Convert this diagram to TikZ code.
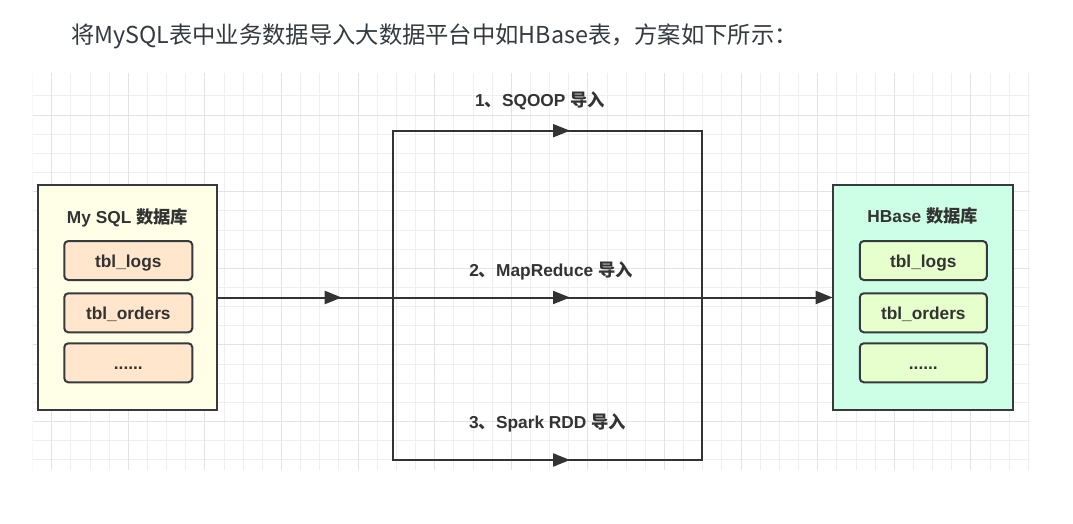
\documentclass[tikz,border=0pt]{standalone}
\usepackage{fontspec}
\setmainfont{Liberation Sans}
\newfontfamily\cjkfont{Noto Sans CJK SC}
\newcommand\cjktxt[1]{{\cjkfont\bfseries #1}}
\usetikzlibrary{arrows.meta}
\definecolor{ln}{HTML}{333333}
\definecolor{bd}{HTML}{36393D}
\definecolor{ttl}{HTML}{333A40}
\definecolor{gminor}{HTML}{EFEFEF}
\definecolor{gmajor}{HTML}{E3E3E3}
\definecolor{myfill}{HTML}{FFFFE8}
\definecolor{myin}{HTML}{FFE6CC}
\definecolor{hbfill}{HTML}{CCFFE6}
\definecolor{hbin}{HTML}{E6FFCC}
\tikzset{
  minorline/.style={draw=gminor, line width=1pt},
  majorline/.style={draw=gmajor, line width=1pt},
  dbbox/.style={draw=bd, line width=2pt, inner sep=0pt, outer sep=0pt, minimum width=179pt, minimum height=225pt},
  tblbox/.style={draw=bd, line width=2pt, rounded corners=4pt, inner sep=0pt, outer sep=0pt, minimum width=127pt, minimum height=39pt, text=ln, font=\fontsize{17.3}{20}\selectfont\bfseries, text height=13pt, text depth=0pt},
  lab/.style={text=ln, inner sep=0pt, anchor=base, font=\fontsize{17.3}{20}\selectfont\bfseries},
  conn/.style={draw=ln, line width=2pt},
  arr/.style={-{Triangle[length=17pt,width=13pt]}}
}
\begin{document}
\begin{tikzpicture}[x=1pt,y=-1pt]
\useasboundingbox (0,0) rectangle (1073,524);
\fill[white] (0,0) rectangle (1073,524);
% title
\node[anchor=west, inner sep=0pt, text=ttl, font=\cjkfont\fontsize{23.3pt}{28pt}\selectfont] (title) at (71,36) {将MySQL表中业务数据导入大数据平台中如HBase表，方案如下所示：};
% grid
\begin{scope}
\clip (32.5,73.3) rectangle (1029.5,470);
\foreach \i in {0,...,52} \draw[minorline] ({32.55+19.15*\i},73.3) -- ({32.55+19.15*\i},470);
\foreach \j in {0,...,19} \draw[minorline] (32.5,{96+19.15*\j}) -- (1029.5,{96+19.15*\j});
\foreach \i in {0,...,13} \draw[majorline] ({51.7+76.6*\i},73.3) -- ({51.7+76.6*\i},470);
\foreach \j in {0,...,4} \draw[majorline] (32.5,{115.15+76.6*\j}) -- (1029.5,{115.15+76.6*\j});
\end{scope}
% databases
\node[dbbox, fill=myfill] (mysql) at (127.5,297.5) {};
\node[lab] (mysqlt) at (127.5,223.3) {My SQL \cjktxt{数据库}};
\node[tblbox, fill=myin, minimum width=128pt] (m1) at (128.3,260.5) {tbl\_logs};
\node[tblbox, fill=myin, minimum width=128pt] (m2) at (128.3,312.8) {tbl\_orders};
\node[tblbox, fill=myin, minimum width=128pt] (m3) at (128.3,362.8) {......};
\node[dbbox, fill=hbfill, minimum width=180pt] (hbase) at (922.7,297.5) {};
\node[lab] (hbaset) at (922.7,222.7) {HBase \cjktxt{数据库}};
\node[tblbox, fill=hbin] (h1) at (923.3,260.5) {tbl\_logs};
\node[tblbox, fill=hbin] (h2) at (923.3,312.8) {tbl\_orders};
\node[tblbox, fill=hbin] (h3) at (923.3,362.8) {......};
% route coordinates
\coordinate (L) at (392.7,297.5);
\coordinate (R) at (701.7,297.5);
\coordinate (LT) at (392.7,130.7);
\coordinate (RT) at (701.7,130.7);
\coordinate (LB) at (392.7,460);
\coordinate (RB) at (701.7,460);
\coordinate (tipA) at (341.7,297.5);
\coordinate (tipT) at (570,130.7);
\coordinate (tipM) at (570,297.5);
\coordinate (tipB) at (570,460);
% connectors
\draw[conn] (LT) rectangle (RB);
\draw[conn] (mysql.east) -- (L);
\draw[conn, arr] (mysql.east) -- (tipA);
\draw[conn, arr] (LT) -- (tipT);
\draw[conn] (L) -- (R);
\draw[conn, arr] (L) -- (tipM);
\draw[conn, arr] (LB) -- (tipB);
\draw[conn, arr] (R) -- (hbase.west);
% labels
\node[lab] (l1) at (540,106.5) {1\cjktxt{、}SQOOP \cjktxt{导入}};
\node[lab] (l2) at (551,276) {2\cjktxt{、}MapReduce \cjktxt{导入}};
\node[lab] (l3) at (547.5,428.3) {3\cjktxt{、}Spark RDD \cjktxt{导入}};
\end{tikzpicture}
\end{document}
